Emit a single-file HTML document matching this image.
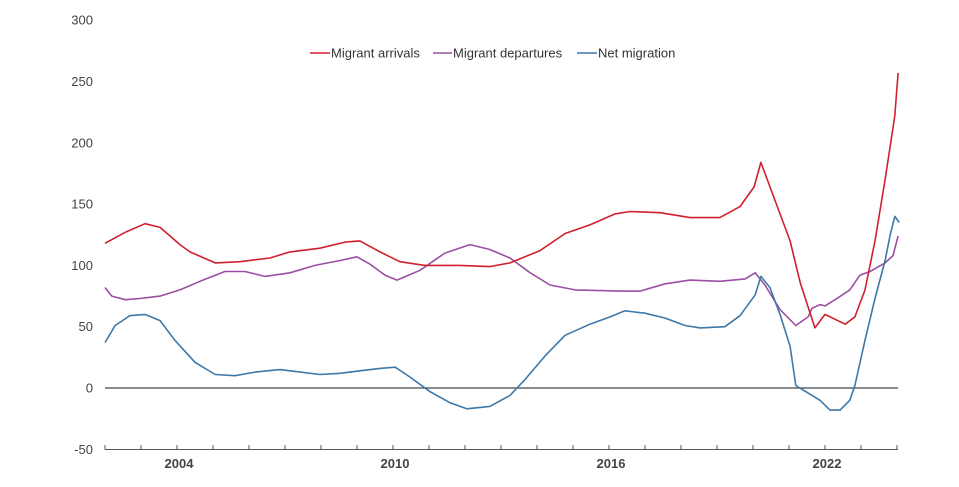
<!DOCTYPE html>
<html><head><meta charset="utf-8"><style>
body{margin:0;background:#fff;width:959px;height:482px;overflow:hidden}
svg{font-family:"Liberation Sans",sans-serif}
</style></head><body>
<svg id="chart" width="959" height="482" viewBox="0 0 959 482">
<g id="yaxis"></g>
<g id="xaxis"></g>
<g id="series"></g>
<g id="legend">
  <line x1="310" y1="53" x2="330" y2="53" stroke="#d0202e" stroke-width="1.6"/>
  <text x="331" y="57.5" font-size="13" fill="#333">Migrant arrivals</text>
  <line x1="433" y1="53" x2="452" y2="53" stroke="#9b4fa3" stroke-width="1.6"/>
  <text x="453" y="57.5" font-size="13" fill="#333">Migrant departures</text>
  <line x1="577" y1="53" x2="597" y2="53" stroke="#3d78a8" stroke-width="1.6"/>
  <text x="598" y="57.5" font-size="13" fill="#333">Net migration</text>
</g>
</svg>
<script>
const yTicks=[300,250,200,150,100,50,0,-50];
const xLabels=[2004,2010,2016,2022];
const arrT=[0,.56,1.11,1.53,2.08,2.36,3.06,3.75,4.58,5.14,5.97,6.67,7.08,7.64,8.19,8.89,9.86,10.69,11.25,12.08,12.78,13.47,14.17,14.58,15.42,16.25,17.08,17.64,18.03,18.22,18.61,19.03,19.31,19.72,20,20.28,20.56,20.83,21.11,21.39,21.67,21.94,22.03];
const arrV=[118,127,134,131,117,111,102,103,106,111,114,119,120,111,103,100,100,99,102,112,126,133,142,144,143,139,139,148,164,184,153,120,86,49,60,56,52,58,80,120,170,222,257];
const depT=[0,.19,.56,.97,1.53,2.08,2.64,3.33,3.89,4.44,5.14,5.83,6.53,7,7.36,7.78,8.11,8.75,9.44,10.14,10.69,11.25,11.81,12.36,13.06,14.31,14.86,15.56,16.25,17.08,17.78,18.06,18.33,18.75,19.19,19.53,19.64,19.86,20,20.28,20.69,20.97,21.25,21.67,21.89,22.03];
const depV=[82,75,72,73,75,80,87,95,95,91,94,100,104,107,101,92,88,96,110,117,113,106,94,84,80,79,79,85,88,87,89,94,84,64,51,58,65,68,67,72,80,92,95,102,108,124];
const netT=[0,.28,.69,1.11,1.53,1.94,2.5,3.06,3.61,4.17,4.86,5.42,5.97,6.53,7.08,7.64,8.06,8.47,9.03,9.58,10.05,10.69,11.25,11.67,12.22,12.78,13.47,14.03,14.44,15,15.56,16.11,16.53,17.22,17.64,18.06,18.22,18.47,18.75,19.03,19.19,19.47,19.86,20.14,20.42,20.69,20.83,21.11,21.39,21.67,21.81,21.94,22.06];
const netV=[37,51,59,60,55,39,21,11,10,13,15,13,11,12,14,16,17,9,-3,-12,-17,-15,-6,7,26,43,52,58,63,61,57,51,49,50,59,76,91,82,60,34,2,-3,-10,-18,-18,-10,2,39,73,104,125,140,135];
const L=105,R=898,Y0=388,PX=61.3/50;
const x=t=>L+t*36;
const y=v=>Y0-v*PX;
const NS="http://www.w3.org/2000/svg";
function mk(tag,attrs,parent){const e=document.createElementNS(NS,tag);for(const k in attrs)e.setAttribute(k,attrs[k]);parent.appendChild(e);return e;}
const ya=document.getElementById('yaxis'),xa=document.getElementById('xaxis'),sg=document.getElementById('series');
yTicks.forEach(v=>{
  const t=mk('text',{x:93,y:y(v)+4.5,'text-anchor':'end','font-size':13,fill:'#444'},ya);
  t.textContent=v;
  
  
});
const zl=mk('line',{x1:L,x2:R,y1:y(0),y2:y(0),stroke:'#444','stroke-width':1.3},ya);


const ax=mk('line',{x1:L,x2:R,y1:449.5,y2:449.5,stroke:'#555','stroke-width':1},xa);


for(let i=0;i<=22;i++){
  const tk=mk('line',{x1:x(i),x2:x(i),y1:445,y2:449.5,stroke:'#555','stroke-width':1},xa);
  
  
}
xLabels.forEach(yr=>{
  const t=mk('text',{x:x(yr-2002)+2,y:468,'text-anchor':'middle','font-size':13,'font-weight':'bold',fill:'#444'},xa);
  t.textContent=yr;
  
  
});
function line(T,V,col,name){
  const d=T.map((t,i)=>(i?'L':'M')+x(t).toFixed(1)+' '+y(V[i]).toFixed(1)).join(' ');
  const p=mk('path',{d:d,fill:'none',stroke:col,'stroke-width':1.6,'stroke-linejoin':'round'},sg);
  
  
}
line(depT,depV,'#9b4fa3','departures-line');
line(netT,netV,'#3d78a8','net-migration-line');
line(arrT,arrV,'#d0202e','arrivals-line');
</script>
</body></html>
